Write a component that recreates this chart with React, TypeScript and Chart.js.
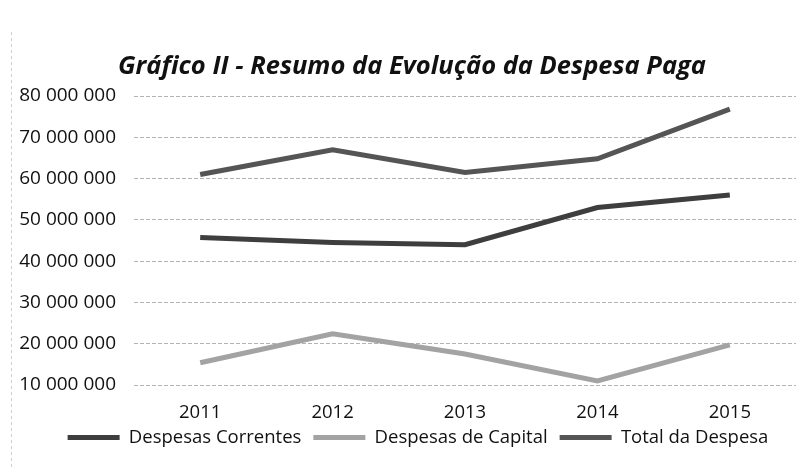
import React, { useEffect, useRef } from "react";
import { Chart, registerables } from "chart.js";

Chart.register(...registerables);

const years = ["2011", "2012", "2013", "2014", "2015"];
const despesasCorrentes = [45700000, 44500000, 44000000, 53000000, 56000000];
const despesasCapital = [15400000, 22400000, 17500000, 11000000, 19700000];
const totalDespesa = [61000000, 67000000, 61500000, 64800000, 76800000];

const seriesNames = ["Despesas Correntes", "Despesas de Capital", "Total da Despesa"];
const seriesColors = ["#3e3e3e", "#a3a3a3", "#555555"];

const FONT = "'Open Sans', 'Noto Sans', sans-serif";

function fmt(v: number): string {
  return Math.round(v)
    .toString()
    .replace(/\B(?=(\d{3})+(?!\d))/g, " ");
}

const shiftBlocks = {
  id: "shiftBlocks",
  afterLayout(chart: any) {
    if (chart.legend) {
      chart.legend.left += 40;
      chart.legend.top -= 8.75;
      chart.legend.bottom -= 8.75;
    }
    if (chart.titleBlock) chart.titleBlock.left += 28;
  },
};

const frameEdge = {
  id: "frameEdge",
  beforeDraw(chart: any) {
    const ctx = chart.ctx;
    ctx.save();
    ctx.strokeStyle = "#cfcfcf";
    ctx.lineWidth = 1;
    ctx.setLineDash([3, 3]);
    ctx.beginPath();
    ctx.moveTo(11.5, 32);
    ctx.lineTo(11.5, 468);
    ctx.stroke();
    ctx.restore();
  },
};

export default function App() {
  const ref = useRef<HTMLCanvasElement | null>(null);

  useEffect(() => {
    document.body.style.margin = "0";
    const canvas = ref.current;
    if (!canvas) return;
    const values = [despesasCorrentes, despesasCapital, totalDespesa];
    const chart = new Chart(canvas, {
      type: "line",
      data: {
        labels: years,
        datasets: seriesNames.map((name, i) => ({
          label: name,
          data: values[i],
          borderColor: seriesColors[i],
          backgroundColor: seriesColors[i],
          borderWidth: 5,
          pointRadius: 0,
          pointHoverRadius: 0,
          tension: 0,
          fill: false,
        })),
      },
      plugins: [shiftBlocks, frameEdge],
      options: {
        responsive: false,
        animation: false,
        layout: { padding: { left: 0, right: 9, top: 0, bottom: 2.5 } },
        plugins: {
          title: {
            display: true,
            text: "Gráfico II - Resumo da Evolução da Despesa Paga",
            color: "#111111",
            font: { family: FONT, size: 25.5, weight: "bold", style: "italic" },
            padding: { top: 51, bottom: 14.4 },
          },
          legend: {
            display: true,
            position: "bottom",
            labels: {
              color: "#111111",
              font: { family: FONT, size: 18.5, weight: "500" },
              boxWidth: 52,
              boxHeight: 5,
              padding: 12,
              generateLabels: (c: any) =>
                c.data.datasets.map((d: any, i: number) => ({
                  text: d.label,
                  fillStyle: d.borderColor,
                  strokeStyle: d.borderColor,
                  lineWidth: 0,
                  datasetIndex: i,
                  hidden: false,
                  fontColor: "#111111",
                })),
            },
          },
          tooltip: { enabled: false },
        },
        scales: {
          x: {
            offset: true,
            grid: { display: false, drawTicks: false },
            border: { display: false },
            ticks: {
              color: "#111111",
              font: { family: FONT, size: 18.5, weight: "500" },
              padding: 17,
            },
            afterFit: (s: any) => {
              s.height = 40;
            },
          },
          y: {
            min: 10000000,
            max: 80000000,
            border: { display: false, dash: [4, 2] },
            grid: {
              color: "#b3b3b3",
              lineWidth: 1,
              drawTicks: false,
            },
            ticks: {
              stepSize: 10000000,
              color: "#111111",
              font: { family: FONT, size: 19, weight: "500" },
              padding: 18,
              callback: (v: any) => fmt(Number(v)),
            },
            afterFit: (s: any) => {
              s.width = 134;
            },
          },
        },
      },
    });
    return () => chart.destroy();
  }, []);

  return (
    <div style={{ position: "absolute", left: 0, top: 0, width: 805, height: 468, background: "#ffffff" }}>
      <canvas ref={ref} width={805} height={468} />
    </div>
  );
}
